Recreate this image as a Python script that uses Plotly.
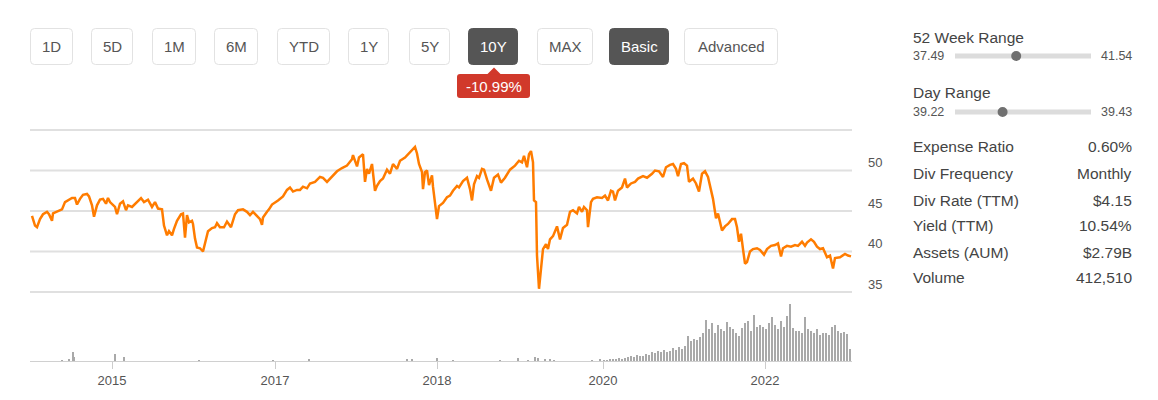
import plotly.graph_objects as go

# ---------------- data ----------------
# period = trading-period index along the 10Y window
period = [0, 3, 5, 8, 11, 15, 17, 20, 21, 26, 30, 33, 36, 40, 43, 45, 48, 51, 55, 57,
          60, 62, 65, 68, 71, 74, 76, 78, 83, 85, 88, 91, 94, 96, 100, 103, 106, 109, 112, 116,
          120, 123, 126, 130, 132, 135, 137, 140, 142, 145, 149, 151, 153, 155, 157, 160, 161, 163, 165, 168,
          171, 173, 176, 180, 183, 185, 188, 192, 195, 199, 203, 206, 211, 215, 218, 221, 225, 228, 230, 231,
          235, 237, 240, 243, 246, 251, 255, 258, 261, 265, 268, 271, 275, 278, 283, 288, 291, 295, 300, 305,
          310, 315, 320, 321, 325, 327, 331, 333, 335, 337, 340, 341, 343, 345, 348, 351, 355, 358, 361, 365,
          368, 373, 378, 383, 385, 387, 390, 391, 393, 395, 397, 400, 401, 403, 405, 407, 411, 415, 418, 421,
          425, 427, 431, 435, 438, 440, 442, 445, 447, 450, 452, 455, 459, 462, 466, 469, 473, 478, 483, 487,
          490, 492, 495, 497, 499, 501, 502, 504, 505, 507, 509, 511, 514, 516, 518, 521, 525, 528, 531, 535,
          538, 541, 545, 547, 550, 552, 555, 556, 559, 561, 565, 570, 573, 576, 579, 581, 583, 586, 590, 593,
          595, 599, 603, 606, 611, 615, 620, 623, 627, 631, 634, 638, 641, 644, 646, 649, 652, 655, 657, 661,
          664, 667, 670, 673, 676, 680, 681, 684, 686, 690, 693, 696, 700, 703, 705, 707, 709, 711, 713, 715,
          718, 721, 725, 728, 732, 735, 739, 743, 746, 749, 751, 755, 759, 763, 766, 770, 773, 775, 779, 782,
          785, 788, 791, 795, 798, 801, 803, 808, 813, 816, 819]
price = [44.4, 43.2, 43.0, 44.0, 44.6, 44.9, 44.6, 43.8, 44.7, 45.0, 45.2, 46.1, 46.3, 46.6, 46.6, 45.8, 46.5, 47.0, 47.1, 46.8,
         45.7, 44.3, 45.7, 46.4, 46.5, 45.9, 46.6, 46.1, 45.5, 44.6, 45.9, 46.2, 45.1, 45.7, 45.5, 45.9, 46.3, 46.6, 46.1, 46.4,
         45.5, 46.1, 45.3, 45.2, 43.2, 42.0, 42.5, 42.0, 42.8, 43.8, 44.6, 44.7, 41.7, 44.5, 43.6, 43.8, 43.4, 41.6, 40.5, 40.4,
         40.0, 41.1, 42.5, 42.9, 43.0, 43.5, 43.0, 43.0, 43.7, 43.0, 44.6, 45.1, 45.2, 44.9, 44.5, 44.9, 44.4, 44.0, 43.3, 44.2,
         44.9, 45.2, 45.8, 46.0, 46.3, 46.8, 47.6, 47.9, 47.4, 47.6, 47.6, 48.0, 47.8, 48.4, 48.6, 49.2, 49.1, 48.6, 49.2, 49.9,
         50.3, 50.6, 51.4, 51.9, 50.5, 51.6, 52.0, 48.6, 50.2, 49.6, 50.8, 49.8, 47.5, 48.1, 48.7, 49.0, 50.1, 49.6, 50.8, 50.2,
         51.2, 51.6, 52.2, 52.9, 52.1, 50.8, 49.8, 47.7, 49.8, 50.0, 48.2, 49.4, 48.0, 46.1, 44.0, 45.6, 46.0, 46.7, 46.9, 47.5,
         48.1, 47.9, 48.7, 49.1, 47.7, 46.3, 48.3, 49.3, 49.1, 50.2, 50.1, 48.9, 47.5, 49.1, 49.5, 48.5, 49.1, 50.1, 50.6, 51.2,
         51.0, 51.8, 50.4, 52.0, 52.4, 51.0, 46.3, 46.1, 39.5, 35.4, 37.9, 40.3, 40.9, 40.3, 41.5, 41.9, 43.1, 41.5, 42.9, 43.3,
         44.9, 45.1, 44.7, 45.5, 44.9, 45.5, 45.1, 43.0, 46.1, 46.5, 46.7, 46.6, 46.9, 46.3, 47.5, 47.4, 46.3, 47.5, 47.9, 49.0,
         47.9, 48.4, 48.6, 49.0, 49.3, 49.1, 49.6, 50.0, 49.9, 49.2, 50.4, 50.7, 50.8, 50.2, 49.3, 50.8, 50.9, 50.6, 48.6, 49.0,
         48.4, 47.4, 49.6, 49.9, 49.2, 46.7, 46.5, 44.1, 44.7, 42.6, 43.1, 43.4, 44.0, 44.0, 43.0, 41.2, 42.2, 40.3, 38.5, 38.7,
         40.0, 40.3, 40.4, 40.2, 39.6, 40.3, 40.7, 40.8, 41.0, 39.4, 40.4, 40.7, 40.6, 40.8, 40.7, 41.2, 40.7, 41.1, 41.5, 41.2,
         40.6, 40.3, 40.4, 39.3, 39.5, 37.9, 39.2, 39.3, 39.7, 39.5, 39.4]

vol_period = [30, 37, 41, 42, 83, 92, 167, 241, 277, 375, 380, 405, 421, 468, 486, 496, 503, 506, 513, 518,
              522, 560, 568,
              572, 575, 578, 581, 584, 587, 590, 593, 596, 599, 602, 605, 608, 611, 614, 617, 620, 623, 626, 629,
              632, 635, 638, 641, 644, 647, 650, 653, 656, 659, 662, 665, 668, 671, 674, 677, 680, 683, 686, 689,
              692, 695, 698, 701, 704, 707, 710, 713, 716, 719, 722, 725, 728, 731, 734, 737, 740, 743, 746, 749,
              752, 755, 758, 761, 764, 767, 770, 773, 776, 779, 782, 785, 788, 791, 794, 797, 800, 803, 806, 809,
              812, 815, 818]
volume_k = [35, 70, 315, 140, 245, 140, 35, 35, 70, 70, 70, 105, 35, 35, 105, 35, 140, 105, 70, 70,
            35, 35, 70,
            35, 35, 70, 70, 70, 105, 70, 105, 140, 175, 140, 210, 175, 175, 245, 210, 315, 280, 350, 315,
            385, 315, 350, 455, 385, 490, 420, 525, 875, 700, 770, 735, 840, 980, 1435, 1120, 1330, 980, 1260, 1120,
            1050, 1365, 1190, 1120, 980, 875, 1155, 1330, 1400, 1050, 1610, 1190, 1260, 1190, 1120, 1330, 1540, 1260,
            1120, 1400, 1190, 1575, 1995, 1155, 1050, 1050, 980, 1540, 1120, 1050, 980, 1120, 910, 980, 980, 910, 1190,
            1260, 1050, 980, 1015, 945, 420]

x_tick_pos = [80, 243, 405, 571, 733]
x_tick_text = ["2015", "2017", "2018", "2020", "2022"]
y_grid_vals = [35, 40, 45, 50, 55]
y_tick_vals = [35, 40, 45, 50]

buttons = ["1D", "5D", "1M", "6M", "YTD", "1Y", "5Y", "10Y", "MAX", "Basic", "Advanced"]
active_buttons = ["10Y", "Basic"]
change_text = "-10.99%"

range_titles = ["52 Week Range", "Day Range"]
range_low = ["37.49", "39.22"]
range_high = ["41.54", "39.43"]
range_frac = [0.45, 0.35]

stat_labels = ["Expense Ratio", "Div Frequency", "Div Rate (TTM)", "Yield (TTM)", "Assets (AUM)", "Volume"]
stat_values = ["0.60%", "Monthly", "$4.15", "10.54%", "$2.79B", "412,510"]

# ---------------- layout helpers ----------------
W, H = 1158, 400
FONT = "Liberation Sans, Arial, sans-serif"
X0_PX, X1_PX = 30, 852


def fx(x):
    return x / W


def fy(y):
    return 1 - y / H


def rrect_path(x0, y0, x1, y1, r):
    pts = []
    pts.append(f"M {fx(x0 + r)} {fy(y0)}")
    pts.append(f"L {fx(x1 - r)} {fy(y0)}")
    pts.append(f"Q {fx(x1)} {fy(y0)} {fx(x1)} {fy(y0 + r)}")
    pts.append(f"L {fx(x1)} {fy(y1 - r)}")
    pts.append(f"Q {fx(x1)} {fy(y1)} {fx(x1 - r)} {fy(y1)}")
    pts.append(f"L {fx(x0 + r)} {fy(y1)}")
    pts.append(f"Q {fx(x0)} {fy(y1)} {fx(x0)} {fy(y1 - r)}")
    pts.append(f"L {fx(x0)} {fy(y0 + r)}")
    pts.append(f"Q {fx(x0)} {fy(y0)} {fx(x0 + r)} {fy(y0)}")
    pts.append("Z")
    return " ".join(pts)


fig = go.Figure()

shapes = []
annotations = []

# price gridlines (drawn below the line)
for v in y_grid_vals:
    shapes.append(dict(type="line", xref="paper", yref="y", x0=fx(X0_PX), x1=fx(X1_PX), y0=v, y1=v,
                       line=dict(color="#e0e0e0", width=2), layer="below"))

fig.add_trace(go.Scatter(x=period, y=price, mode="lines",
                         line=dict(color="#ff7c00", width=2.5),
                         xaxis="x", yaxis="y", hoverinfo="skip"))
fig.add_trace(go.Bar(x=vol_period, y=volume_k, width=2.4,
                     marker=dict(color="#a9a9a9", line=dict(width=0)),
                     xaxis="x", yaxis="y2", hoverinfo="skip"))

# buttons
btn_x = [(30, 73), (91, 133), (152, 196), (214, 258), (277, 330), (348, 389),
         (409, 450), (468, 518), (537, 593), (609, 669), (684, 778)]
for label, (x0, x1) in zip(buttons, btn_x):
    on = label in active_buttons
    shapes.append(dict(type="path", path=rrect_path(x0 + 0.5, 28.5, x1 - 0.5, 64.5, 4),
                       xref="paper", yref="paper",
                       fillcolor="#555555" if on else "#ffffff",
                       line=dict(color="#555555" if on else "#e2e2e2", width=1)))
    annotations.append(dict(text=label, x=fx((x0 + x1) / 2), y=fy(46.5), xref="paper", yref="paper",
                            xanchor="center", yanchor="middle", showarrow=False,
                            font=dict(family=FONT, size=15, color="#ffffff" if on else "#555555")))

# change badge
shapes.append(dict(type="path", path=rrect_path(457, 74, 530, 98, 3), xref="paper", yref="paper",
                   fillcolor="#d1392b", line=dict(width=0)))
shapes.append(dict(type="path",
                   path=f"M {fx(487)} {fy(74.5)} L {fx(494)} {fy(67.5)} L {fx(501)} {fy(74.5)} Z",
                   xref="paper", yref="paper", fillcolor="#d1392b", line=dict(width=0)))
annotations.append(dict(text=change_text, x=fx(493.5), y=fy(86.5), xref="paper", yref="paper",
                        xanchor="center", yanchor="middle", showarrow=False,
                        font=dict(family=FONT, size=15, color="#ffffff")))

# y tick labels (sit just above the gridlines)
for v in y_tick_vals:
    annotations.append(dict(text=str(v), x=fx(866), y=v, xref="paper", yref="y",
                            xanchor="left", yanchor="middle", yshift=8, showarrow=False,
                            font=dict(family=FONT, size=13, color="#555555")))

# right panel: ranges
title_y = [37, 92]
bar_y = [56, 112]
for i in range(2):
    annotations.append(dict(text=range_titles[i], x=fx(911), y=fy(title_y[i]), xref="paper", yref="paper",
                            xanchor="left", yanchor="middle", showarrow=False,
                            font=dict(family=FONT, size=15.5, color="#444444")))
    annotations.append(dict(text=range_low[i], x=fx(911), y=fy(bar_y[i]), xref="paper", yref="paper",
                            xanchor="left", yanchor="middle", showarrow=False,
                            font=dict(family=FONT, size=12.5, color="#555555")))
    annotations.append(dict(text=range_high[i], x=fx(1134), y=fy(bar_y[i]), xref="paper", yref="paper",
                            xanchor="right", yanchor="middle", showarrow=False,
                            font=dict(family=FONT, size=12.5, color="#555555")))
    shapes.append(dict(type="line", x0=fx(955), x1=fx(1091), y0=fy(bar_y[i]), y1=fy(bar_y[i]),
                       xref="paper", yref="paper", line=dict(color="#dcdcdc", width=5)))
    kx = 955 + range_frac[i] * (1091 - 955)
    shapes.append(dict(type="circle", x0=fx(kx - 5), x1=fx(kx + 5), y0=fy(bar_y[i] - 5), y1=fy(bar_y[i] + 5),
                       xref="paper", yref="paper", fillcolor="#707070", line=dict(width=0)))

# right panel: stats
row_y = [147, 173.5, 200, 226, 252, 277]
for lab, val, yy in zip(stat_labels, stat_values, row_y):
    annotations.append(dict(text=lab, x=fx(911), y=fy(yy), xref="paper", yref="paper",
                            xanchor="left", yanchor="middle", showarrow=False,
                            font=dict(family=FONT, size=15.5, color="#444444")))
    annotations.append(dict(text=val, x=fx(1134), y=fy(yy), xref="paper", yref="paper",
                            xanchor="right", yanchor="middle", showarrow=False,
                            font=dict(family=FONT, size=15.5, color="#444444")))

fig.update_layout(
    width=W, height=H,
    margin=dict(l=0, r=0, t=0, b=0, pad=0),
    paper_bgcolor="#ffffff", plot_bgcolor="rgba(0,0,0,0)",
    showlegend=False,
    font=dict(family=FONT, color="#555555"),
    xaxis=dict(domain=[fx(X0_PX), fx(X1_PX)], range=[-2, 820], anchor="y2",
               tickmode="array", tickvals=x_tick_pos, ticktext=x_tick_text,
               ticks="outside", ticklen=7, tickcolor="#cccccc", tickwidth=1,
               showline=True, linecolor="#d0d0d0", linewidth=1,
               showgrid=False, zeroline=False,
               tickfont=dict(family=FONT, size=13, color="#555555")),
    yaxis=dict(domain=[fy(293), fy(129)], range=[34.88, 55.12],
               showticklabels=False, showgrid=False,
               zeroline=False, showline=False, anchor="x"),
    yaxis2=dict(domain=[fy(361), fy(300)], range=[0, 2150], visible=False, anchor="x"),
    bargap=0,
    shapes=shapes,
    annotations=annotations,
)

fig.write_html("out.html")
